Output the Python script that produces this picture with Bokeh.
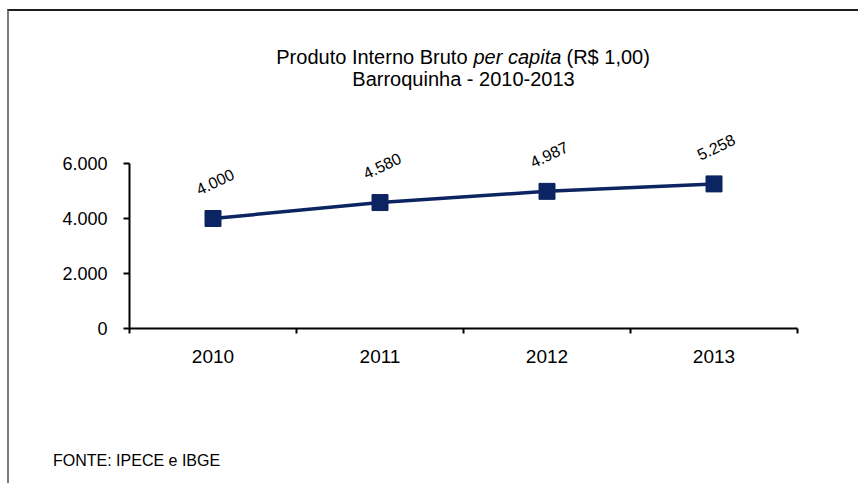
from bokeh.plotting import figure
from bokeh.models import Range1d, FixedTicker, Label, LabelSet, ColumnDataSource, Div
from bokeh.layouts import column
from bokeh.core.properties import value
from bokeh.embed import file_html
from bokeh.resources import INLINE

# ---- data ----
years = ["2010", "2011", "2012", "2013"]
pib_per_capita = [4000, 4580, 4987, 5258]
y_ticks = [0, 2000, 4000, 6000]
y_tick_labels = ["0", "2.000", "4.000", "6.000"]

title_line1_a = "Produto Interno Bruto"
title_line1_b = "per capita"
title_line1_c = "(R$ 1,00)"
title_line2 = "Barroquinha - 2010-2013"
source_note = "FONTE: IPECE e IBGE"

# ---- layout (page pixels) ----
PX0, PY0 = 9, 11            # content origin on the page (after margin + border)
W = 858 - PX0
FL, FR, FT, FB = 129, 797, 163, 328   # axes box on the page
NCAT = len(years)
YMAX = y_ticks[-1]
FIG_H = 380


def X(px):
    return (px - FL) / (FR - FL) * NCAT


def Y(py):
    return (FB - py) / (FB - FT) * YMAX


xs = [i + 0.5 for i in range(NCAT)]
labels_txt = [f"{v:,}".replace(",", ".") for v in pib_per_capita]
src = ColumnDataSource(dict(x=xs, y=pib_per_capita, txt=labels_txt))

p = figure(width=W, height=FIG_H, output_backend="svg", toolbar_location=None,
           x_range=Range1d(0, X(858)), y_range=Range1d(0, Y(PY0)),
           min_border_left=FL - PX0, min_border_right=0, min_border_top=0,
           min_border_bottom=FIG_H - (FB - PY0))
p.outline_line_color = None
p.xgrid.visible = False
p.ygrid.visible = False
p.background_fill_color = "white"
p.border_fill_color = "white"

FONT = "Liberation Sans"
NAVY = "#0c2461"

# y axis
p.yaxis.ticker = FixedTicker(ticks=y_ticks, minor_ticks=[])
p.yaxis.bounds = (0, YMAX)
p.yaxis.major_label_overrides = {t: l for t, l in zip(y_ticks, y_tick_labels)}
p.yaxis.axis_line_width = 2
p.yaxis.axis_line_color = "black"
p.yaxis.major_tick_line_width = 2
p.yaxis.major_tick_out = 6
p.yaxis.major_tick_in = 0
p.yaxis.major_label_standoff = 16
p.yaxis.major_label_text_font = FONT
p.yaxis.major_label_text_font_size = "18px"
p.yaxis.major_label_text_color = "black"

# x axis
p.xaxis.ticker = FixedTicker(ticks=xs, minor_ticks=list(range(NCAT + 1)))
p.xaxis.bounds = (0, NCAT)
p.xaxis.major_label_overrides = {x: y for x, y in zip(xs, years)}
p.xaxis.axis_line_width = 2
p.xaxis.axis_line_color = "black"
p.xaxis.major_tick_out = 0
p.xaxis.major_tick_in = 0
p.xaxis.minor_tick_out = 5
p.xaxis.minor_tick_in = 0
p.xaxis.minor_tick_line_width = 2
p.xaxis.minor_tick_line_color = "black"
p.xaxis.major_label_standoff = 16
p.xaxis.major_label_text_font = FONT
p.xaxis.major_label_text_font_size = "19px"
p.xaxis.major_label_text_color = "black"

# series
p.line("x", "y", source=src, line_color=NAVY, line_width=3.5)
p.scatter("x", "y", source=src, marker="square", size=16, fill_color=NAVY,
          line_color=NAVY)

p.add_layout(LabelSet(x="x", y="y", text="txt", source=src, angle=0.44,
                      x_offset=2, y_offset=37, text_align="center",
                      text_baseline="middle", text_font=value(FONT),
                      text_font_size=value("16px"), text_color=value("black")))

# title (mixed roman / italic)
TS = "20px"
p.add_layout(Label(x=X(467), y=Y(56), text=title_line1_a, text_align="right",
                   text_baseline="alphabetic", text_font=FONT, text_font_size=TS,
                   text_color="black"))
p.add_layout(Label(x=X(473), y=Y(56), text=title_line1_b, text_align="left",
                   text_baseline="alphabetic", text_font=FONT, text_font_size=TS,
                   text_font_style="italic", text_color="black"))
p.add_layout(Label(x=X(566), y=Y(56), text=title_line1_c, text_align="left",
                   text_baseline="alphabetic", text_font=FONT, text_font_size=TS,
                   text_color="black"))
p.add_layout(Label(x=X(463), y=Y(78), text=title_line2, text_align="center",
                   text_baseline="alphabetic", text_font=FONT, text_font_size=TS,
                   text_color="black"))

# source note below the chart
note_h = 483 - PY0 - FIG_H
note = Div(text=(f'<div style="padding:56px 0 0 {48 - PX0}px;'
                 f'font-family:\'{FONT}\';font-size:16px;line-height:18px;'
                 f'color:black;white-space:nowrap">{source_note}</div>'),
           width=W, height=note_h)

root = column(p, note, styles={"margin-left": "7px", "margin-top": "9px",
                               "border-top": "2px solid #1e1e1e",
                               "border-left": "2px solid #7a7a7a"})

open("out.html", "w").write(file_html(root, INLINE))
